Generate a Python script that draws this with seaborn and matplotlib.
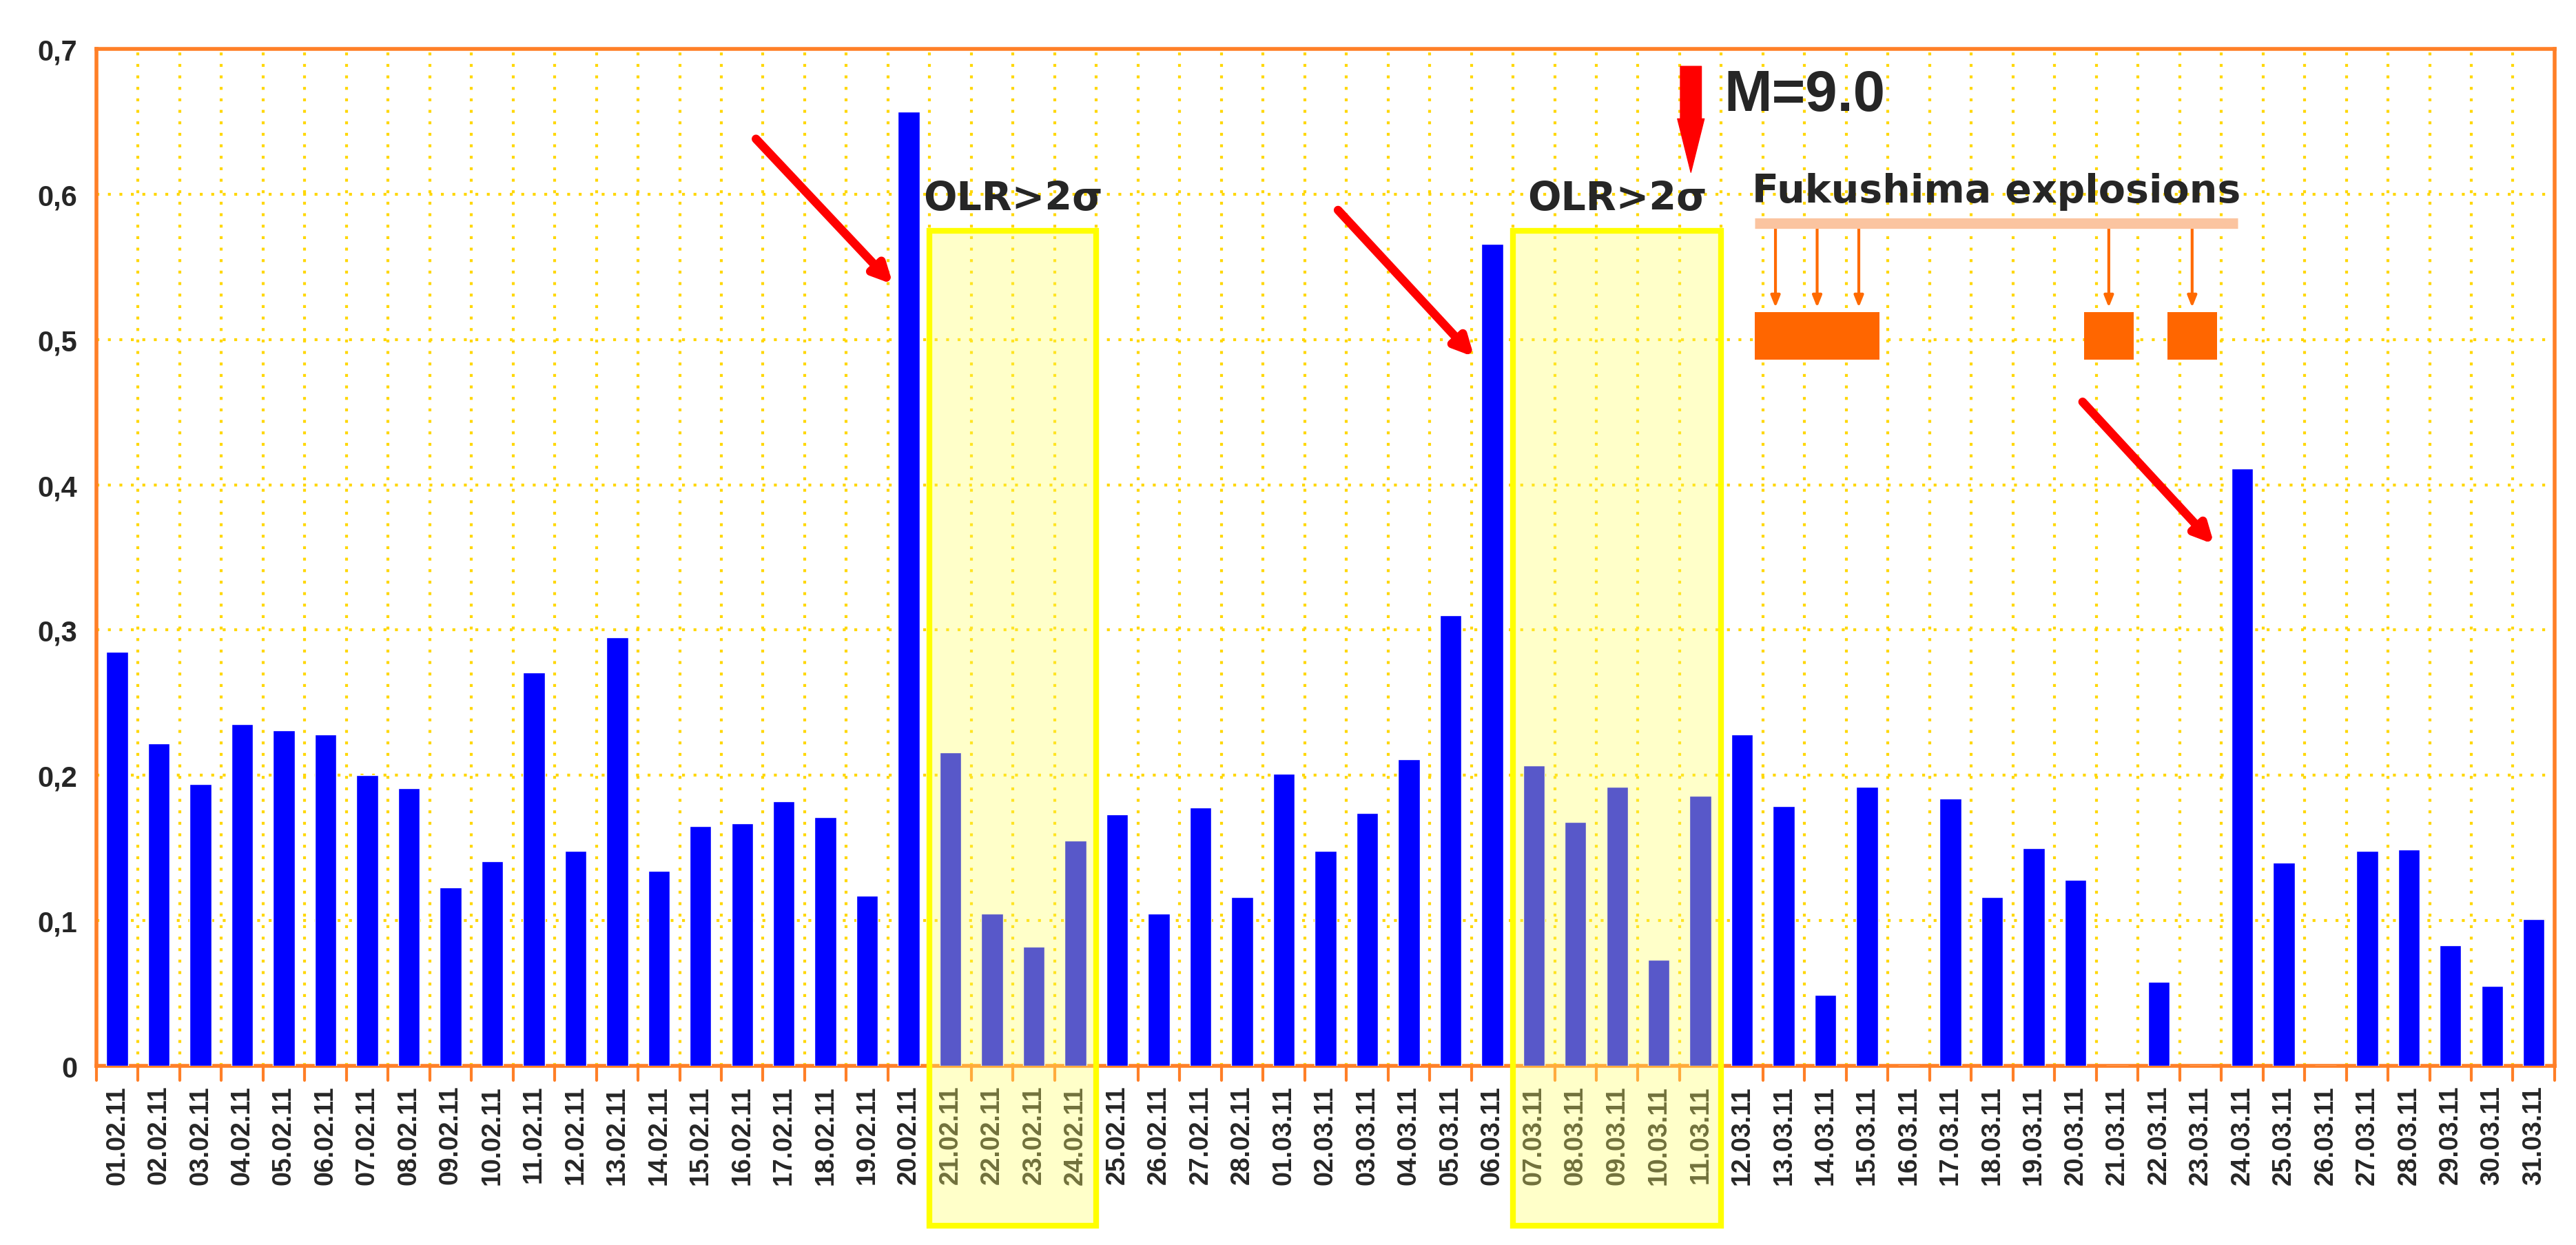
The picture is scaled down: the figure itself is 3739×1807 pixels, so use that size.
import numpy as np
import pandas as pd
import matplotlib.pyplot as plt
import seaborn as sns
from matplotlib.patches import Rectangle

dates = [f"{d:02d}.02.11" for d in range(1, 29)] + [f"{d:02d}.03.11" for d in range(1, 32)]
values = [0.285, 0.222, 0.194, 0.235, 0.231, 0.228, 0.200, 0.191, 0.123, 0.141,
          0.271, 0.148, 0.295, 0.134, 0.165, 0.167, 0.182, 0.171, 0.117, 0.657,
          0.216, 0.105, 0.082, 0.155, 0.173, 0.105, 0.178, 0.116,
          0.201, 0.148, 0.174, 0.211, 0.310, 0.566, 0.207, 0.168, 0.192, 0.073,
          0.186, 0.228, 0.179, 0.049, 0.192, 0.0, 0.184, 0.116, 0.150, 0.128,
          0.0, 0.058, 0.0, 0.411, 0.140, 0.0, 0.148, 0.149, 0.083, 0.055, 0.101]
yticks = [0, 0.1, 0.2, 0.3, 0.4, 0.5, 0.6, 0.7]
ytick_labels = ["0", "0,1", "0,2", "0,3", "0,4", "0,5", "0,6", "0,7"]

df = pd.DataFrame({"date": dates, "value": values})

sns.set_style("white")
plt.rcParams['font.family'] = ['Liberation Sans', 'DejaVu Sans']

fig = plt.figure(figsize=(37.39, 18.08), dpi=100)
ax = fig.add_axes([0.0374, 0.1438, 0.9543, 0.8164])
sns.barplot(data=df, x="date", y="value", color="#0000ff", saturation=1, width=0.52, ax=ax, zorder=3)

orange = "#ff7f27"
ax.set_xlim(-0.5, len(dates) - 0.5)
ax.set_ylim(0, 0.7)
ax.set_yticks(yticks)
ax.set_yticklabels(ytick_labels, fontsize=30, fontweight="bold")
ax.set_xticks(np.arange(len(dates)))
ax.set_xticklabels(dates, rotation=90, fontsize=27, fontweight="bold")
ax.set_xlabel("")
ax.set_ylabel("")
for s in ax.spines.values():
    s.set_color(orange)
    s.set_linewidth(4)
# boundary ticks/grid
for b in np.arange(len(dates) + 1) - 0.5:
    ax.axvline(b, color="#ffd700", ls=(0, (1, 3)), lw=3, zorder=1)
    ax.plot([b, b], [0, -0.01], color=orange, lw=3, clip_on=False)
for y in yticks[1:-1]:
    ax.axhline(y, color="#ffd700", ls=(0, (1, 3)), lw=3, zorder=1)
ax.tick_params(axis="x", length=0, pad=20)
ax.tick_params(axis="y", length=12, width=3, color=orange, direction="inout", pad=14)

# yellow OLR boxes
for x0, x1 in [(19.5, 23.5), (33.5, 38.5)]:
    ax.add_patch(Rectangle((x0, -0.11), x1 - x0, 0.685, facecolor="#ffff66", alpha=0.35,
                           edgecolor="none", clip_on=False, zorder=4))
    ax.add_patch(Rectangle((x0, -0.11), x1 - x0, 0.685, facecolor="none",
                           edgecolor="#ffff00", lw=6, clip_on=False, zorder=5))
    ax.text((x0 + x1) / 2, 0.597, "OLR>2σ", ha="center", va="center", fontsize=41,
            fontweight="bold", family=["DejaVu Sans"], zorder=6)

# red arrows
for (xa, ya), (xb, yb) in [((15.3, 0.639), (18.65, 0.537)), ((29.27, 0.590), (32.6, 0.487)),
                           ((47.14, 0.458), (50.36, 0.358))]:
    ax.annotate("", xy=(xb, yb), xytext=(xa, ya),
                arrowprops=dict(arrowstyle="-|>,head_length=1.6,head_width=0.8", color="#ff0000", lw=9),
                zorder=7)

# M=9.0
ax.annotate("", xy=(37.77, 0.615), xytext=(37.77, 0.688),
            arrowprops=dict(arrowstyle="simple,head_length=1.4,head_width=0.7,tail_width=0.55",
                            color="#ff0000", mutation_scale=40, shrinkA=0, shrinkB=0))
ax.text(38.57, 0.668, "M=9.0", fontsize=60, fontweight="bold", va="center", ha="left")

# Fukushima explosions
ax.text(45.1, 0.602, "Fukushima explosions", fontsize=41, fontweight="bold", ha="center",
        va="center", family=["DejaVu Sans"])
ax.plot([39.3, 50.9], [0.58, 0.58], color="#fbc4a0", lw=11, solid_capstyle="butt", zorder=6)
for xa in [39.8, 40.8, 41.8, 47.8, 49.8]:
    ax.annotate("", xy=(xa, 0.522), xytext=(xa, 0.577),
                arrowprops=dict(arrowstyle="-|>,head_length=1.0,head_width=0.4", color="#ff6a00",
                                lw=3, shrinkA=0, shrinkB=0))
for x0, x1 in [(39.3, 42.3), (47.2, 48.4), (49.2, 50.4)]:
    ax.add_patch(Rectangle((x0, 0.486), x1 - x0, 0.033, facecolor="#ff6600", edgecolor="none", zorder=6))

fig.savefig("out.png", dpi=100)
